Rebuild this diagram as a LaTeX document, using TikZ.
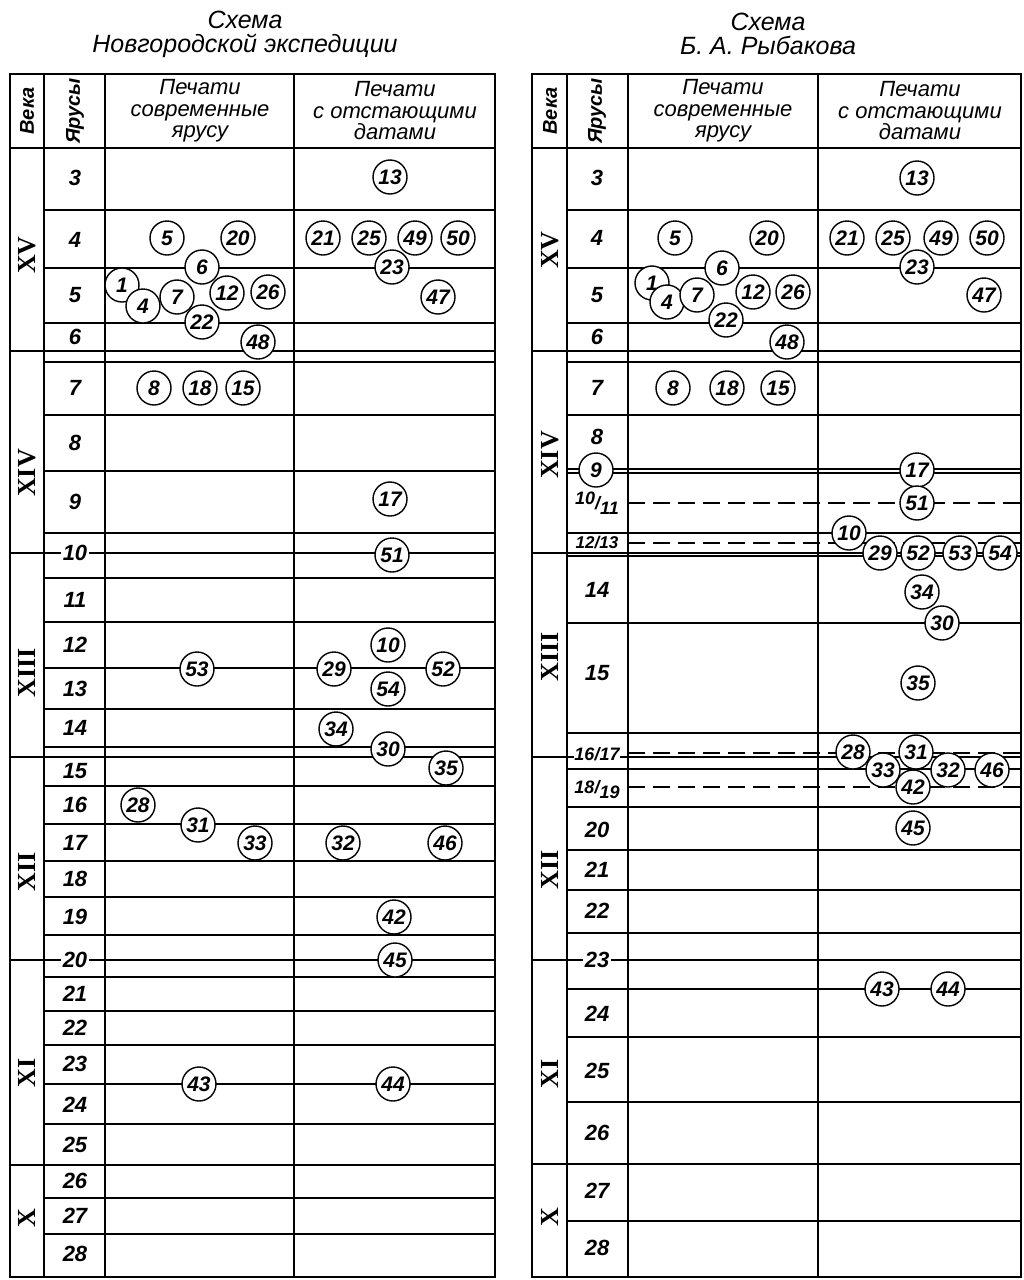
\documentclass[tikz,border=0pt]{standalone}
\usepackage{fontspec}
\setmainfont{Liberation Sans}
\newfontfamily\rmn{Liberation Serif}
\begin{document}
\begin{tikzpicture}[x=1pt,y=-1pt,
  tl/.style={line width=1.5pt, line cap=rect},
  dl/.style={line width=1.4pt, dash pattern=on 17pt off 8pt},
  circ/.style={circle, draw, fill=white, line width=1.4pt, minimum size=34pt, inner sep=0pt,
    font=\bfseries\itshape\fontsize{21}{21}\selectfont},
  rl/.style={inner sep=1pt, font=\bfseries\itshape\fontsize{22}{22}\selectfont},
  rlw/.style={rl, fill=white, inner sep=2pt},
  rls/.style={inner sep=1pt, font=\bfseries\itshape\fontsize{18}{18}\selectfont},
  cen/.style={rotate=90, inner sep=0pt, font=\rmn\bfseries\fontsize{26}{26}\selectfont},
  hd/.style={align=center, inner sep=0pt, font=\itshape\fontsize{22}{21.5}\selectfont},
  hdr/.style={rotate=90, inner sep=0pt, font=\bfseries\itshape\fontsize{20}{20}\selectfont},
  ttl/.style={align=center, inner sep=0pt, font=\itshape\fontsize{25}{24}\selectfont}]
\useasboundingbox (0,0) rectangle (1023,1280);
\fill[white] (0,0) rectangle (1023,1280);

% ---------- titles ----------
\node[ttl] (t1) at (245,34) {Схема\\Новгородской экспедиции};
\node[ttl] (t2) at (768,34) {Схема\\Б. А. Рыбакова};

% ---------- left table lines ----------
\foreach \y in {74,148,351,553,757,960,1165,1277} \draw[tl] (10,\y) -- (495,\y);
\foreach \y in {210,268,323,362,415,471,533,578,622,668,709,747,786,824,861,897,935,977,1011,1045,1084,1124,1198,1234}
  \draw[tl] (44,\y) -- (495,\y);
\foreach \x in {10,44,105,294,495} \draw[tl] (\x,74) -- (\x,1277);

% ---------- right table lines ----------
\foreach \y in {74,148,351,553,757,960,1164,1277} \draw[tl] (532,\y) -- (1021,\y);
\foreach \y in {210,268,323,362,415,469,473,533,556,623,733,769,807,850,890,933,989,1037,1102,1221}
  \draw[tl] (567,\y) -- (1021,\y);
\foreach \y in {503,543,753,787} \draw[dl] (628,\y) -- (1021,\y);
\foreach \x in {532,567,628,818,1021} \draw[tl] (\x,74) -- (\x,1277);

% ---------- headers ----------
\node[hdr] (lh1) at (27,111) {Века};
\node[hdr] (lh2) at (75,111) {Ярусы};
\node[hd] (lh3) at (200,111) {Печати\\современные\\ярусу};
\node[hd] (lh4) at (395,111) {Печати\\с отстающими\\датами};
\node[hdr] (rh1) at (550,111) {Века};
\node[hdr] (rh2) at (597,111) {Ярусы};
\node[hd] (rh3) at (723,111) {Печати\\современные\\ярусу};
\node[hd] (rh4) at (920,111) {Печати\\с отстающими\\датами};

% ---------- century labels ----------
\node[cen] (lc1) at (27,255) {XV};
\node[cen] (lc2) at (27,473) {XIV};
\node[cen] (lc3) at (27,673) {XIII};
\node[cen] (lc4) at (27,872) {XII};
\node[cen] (lc5) at (27,1073) {XI};
\node[cen] (lc6) at (27,1218) {X};
\node[cen] (rc1) at (550,250) {XV};
\node[cen] (rc2) at (550,455) {XIV};
\node[cen] (rc3) at (550,657) {XIII};
\node[cen] (rc4) at (550,870) {XII};
\node[cen] (rc5) at (550,1074) {XI};
\node[cen] (rc6) at (550,1217) {X};

% ---------- left row labels ----------
\foreach \t/\y in {3/178,4/240,5/295,6/337,7/388,8/443,9/502,11/600,12/645,13/689,14/728,15/771,16/805,17/843,18/879,19/917,21/994,22/1028,23/1064,24/1105,25/1145,26/1181,27/1216,28/1254}
  \node[rl] (lr\t) at (75,\y) {\t};
\node[rlw] (lr10) at (75,553) {10};
\node[rlw] (lr20) at (75,960) {20};

% ---------- right row labels ----------
\foreach \t/\y in {3/178,4/238,5/295,6/337,7/388,8/437,14/590,15/673,20/830,21/870,22/911,24/1014,25/1071,26/1133,27/1191,28/1248}
  \node[rl] (rr\t) at (597,\y) {\t};
\node[rlw] (rr23) at (597,960) {23};
\node[rls] (rr1011) at (597,503) {\raisebox{5pt}{10}/\raisebox{-5pt}{11}};
\node[rls, font=\bfseries\itshape\fontsize{17}{17}\selectfont] (rr1213) at (597,543) {12/13};
\node[rls, fill=white, inner sep=0.5pt] (rr1617) at (597,754) {16/17};
\node[rls] (rr1819) at (597,790) {18/\raisebox{-5pt}{19}};
\node[circ] (rr9) at (596,470) {9};

% ---------- left circles ----------
\foreach \t/\x/\y in {13/390/177, 5/167/238, 20/238/238, 21/323/238, 25/369/238, 49/415/238, 50/458/238,
  6/202/267, 23/392/267, 1/122/285, 4/143/306, 7/177/297, 12/227/293, 26/268/292, 22/202/322, 48/258/342, 47/438/297,
  8/154/388, 18/200/388, 15/243/388, 17/390/499, 51/392/555, 53/197/669, 29/334/669, 10/388/645, 52/443/669,
  54/388/689, 34/336/729, 30/388/749, 35/446/768, 28/138/805, 31/198/825, 33/255/843, 32/343/843, 46/445/843,
  42/394/917, 45/395/960, 43/199/1084, 44/393/1084}
  \node[circ] (ls\t) at (\x,\y) {\t};

% ---------- right circles ----------
\foreach \t/\x/\y in {13/917/178, 5/675/238, 20/767/238, 21/847/238, 25/893/238, 49/941/238, 50/987/238,
  23/917/267, 6/722/268, 1/652/283, 4/667/302, 7/697/295, 12/753/292, 26/793/292, 22/726/320, 48/787/342, 47/984/295,
  8/673/388, 18/727/388, 15/778/388, 17/917/470, 51/917/503, 10/849/533, 29/880/553, 52/918/553, 53/960/553,
  54/1000/553, 34/922/592, 30/942/623, 35/918/683, 28/853/752, 31/916/752, 33/883/770, 32/948/770, 46/992/770,
  42/913/787, 45/913/828, 43/882/989, 44/948/989}
  \node[circ] (rs\t) at (\x,\y) {\t};
\end{tikzpicture}
\end{document}
